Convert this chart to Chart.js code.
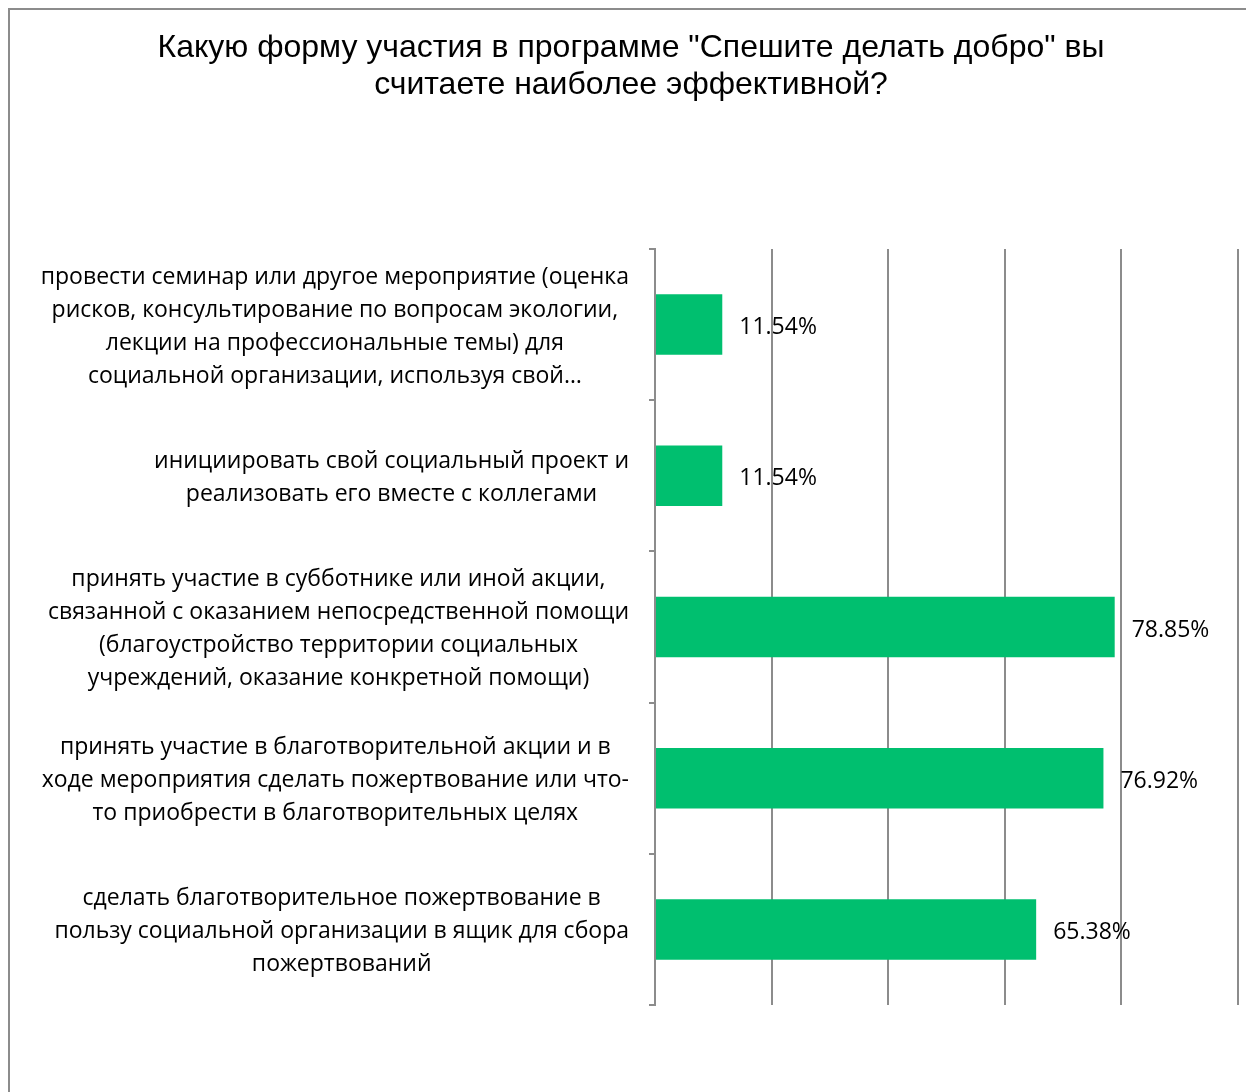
<!DOCTYPE html>
<html><head><meta charset="utf-8">
<script src="https://cdn.jsdelivr.net/npm/chart.js@4/dist/chart.umd.min.js"></script>
<style>html,body{margin:0;padding:0;background:#fff;overflow:hidden}#wrap{position:absolute;left:0;top:0;width:1246px;height:1092px}</style>
</head><body><div id="wrap"><canvas id="c"></canvas></div>
<script>
const titleLines = ['Какую форму участия в программе "Спешите делать добро" вы', 'считаете наиболее эффективной?'];
const categories = [
  ['провести семинар или другое мероприятие (оценка', 'рисков, консультирование по вопросам экологии,', 'лекции на профессиональные темы) для', 'социальной организации, используя свой…'],
  ['инициировать свой социальный проект и', 'реализовать его вместе с коллегами'],
  ['принять участие в субботнике или иной акции,', 'связанной с оказанием непосредственной помощи', '(благоустройство территории социальных', 'учреждений, оказание конкретной помощи)'],
  ['принять участие в благотворительной акции и в', 'ходе мероприятия сделать пожертвование или что-', 'то приобрести в благотворительных целях'],
  ['сделать благотворительное пожертвование в', 'пользу социальной организации в ящик для сбора', 'пожертвований']
];
const values = [11.54, 11.54, 78.85, 76.92, 65.38];
const valueLabels = ['11.54%', '11.54%', '78.85%', '76.92%', '65.38%'];
const xTickValues = [0, 20, 40, 60, 80, 100];

const LABEL_FONT = '23px "Open Sans"';
const GRID = '#8c8c8c';

const framePlugin = {
  id: 'frame',
  beforeDraw(chart) {
    const ctx = chart.ctx;
    ctx.save();
    ctx.fillStyle = '#fff';
    ctx.fillRect(0, 0, chart.width, chart.height);
    ctx.strokeStyle = '#8c8c8c';
    ctx.lineWidth = 2;
    ctx.beginPath();
    ctx.moveTo(9, chart.height);
    ctx.lineTo(9, 9);
    ctx.lineTo(chart.width, 9);
    ctx.stroke();
    ctx.restore();
  }
};

const catLabelPlugin = {
  id: 'catLabels',
  afterDraw(chart) {
    const ctx = chart.ctx;
    const ys = chart.scales.y;
    const rightEdge = ys.right - 26;
    const lh = 33;
    ctx.save();
    ctx.font = LABEL_FONT;
    ctx.fillStyle = '#000';
    ctx.textAlign = 'center';
    ctx.textBaseline = 'middle';
    categories.forEach((lines, i) => {
      const cy = ys.getPixelForTick(i) + 2;
      const w = Math.max(...lines.map(l => ctx.measureText(l).width));
      const cx = rightEdge - w / 2;
      lines.forEach((l, j) => {
        ctx.fillText(l, cx, cy + (j - (lines.length - 1) / 2) * lh);
      });
    });
    ctx.restore();
  }
};

const valueLabelPlugin = {
  id: 'valueLabels',
  afterDatasetsDraw(chart) {
    const ctx = chart.ctx;
    const meta = chart.getDatasetMeta(0);
    ctx.save();
    ctx.font = LABEL_FONT;
    ctx.fillStyle = '#000';
    ctx.textAlign = 'left';
    ctx.textBaseline = 'middle';
    meta.data.forEach((bar, i) => {
      ctx.fillText(valueLabels[i], bar.x + 17, bar.y + 3);
    });
    ctx.restore();
  }
};

new Chart(document.getElementById('c'), {
  type: 'bar',
  data: {
    labels: categories,
    datasets: [{
      data: values,
      backgroundColor: '#00BF6F',
      borderWidth: 0,
      barPercentage: 0.4,
      categoryPercentage: 1.0
    }]
  },
  options: {
    indexAxis: 'y',
    responsive: true,
    maintainAspectRatio: false,
    animation: false,
    devicePixelRatio: 1,
    layout: { padding: { top: 0, left: 24, right: 8, bottom: 87 } },
    plugins: {
      legend: { display: false },
      tooltip: { enabled: false },
      title: {
        display: true,
        text: titleLines,
        color: '#000',
        font: { family: '"Liberation Sans", Arial, sans-serif', size: 32, weight: 'normal', lineHeight: 1.156 },
        padding: { top: 30, bottom: 145 }
      }
    },
    scales: {
      x: {
        type: 'linear',
        min: 0,
        max: 100,
        afterBuildTicks(scale) { scale.ticks = xTickValues.map(v => ({ value: v })); },
        ticks: { display: false },
        grid: { color: GRID, lineWidth: 2, drawTicks: false },
        border: { display: false },
        afterFit(scale) { scale.height = 0; }
      },
      y: {
        type: 'category',
        ticks: { color: 'rgba(0,0,0,0)' },
        grid: { drawOnChartArea: false, drawTicks: true, tickLength: 6, color: GRID, lineWidth: 2, offset: true },
        border: { display: true, color: GRID, width: 2 },
        afterFit(scale) { scale.width = 631; }
      }
    }
  },
  plugins: [framePlugin, catLabelPlugin, valueLabelPlugin]
});
</script>
</body></html>
